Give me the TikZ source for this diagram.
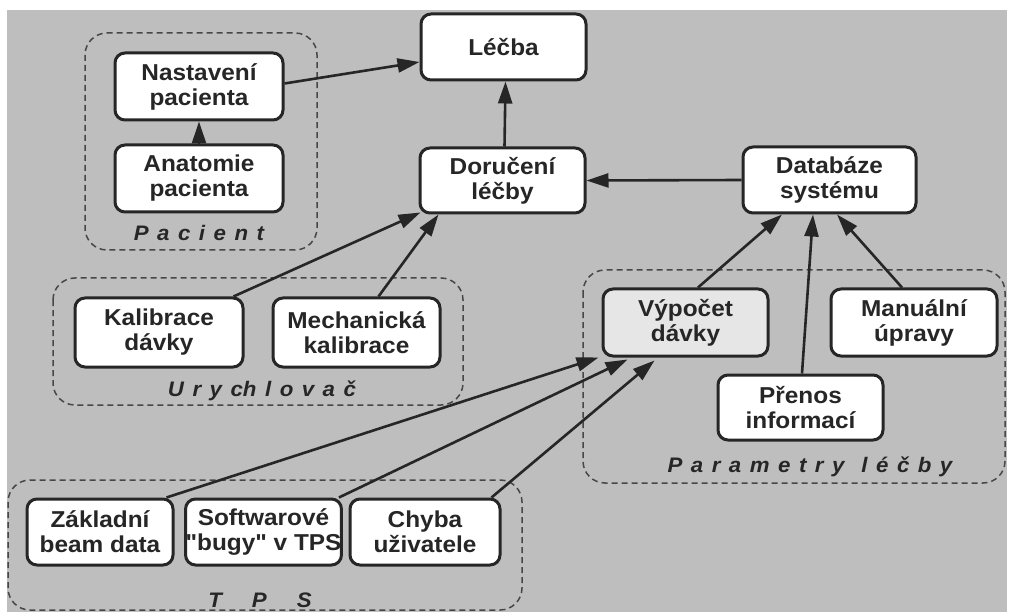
\documentclass[tikz,border=0pt]{standalone}
\usepackage{fontspec}
\setmainfont{Liberation Sans}[FakeStretch=1.06]
\usetikzlibrary{arrows.meta}
\definecolor{bg}{HTML}{BEBEBE}
\definecolor{ink}{HTML}{262626}
\definecolor{vypfill}{HTML}{E6E6E6}
\newcommand\gs{\hspace{8.5pt}}
\begin{document}
\begin{tikzpicture}[x=1pt,y=-1pt,
  box/.style={draw=ink, line width=3pt, rounded corners=10pt, fill=white,
    align=center, text=ink, inner sep=0pt,
    font=\fontsize{23}{25}\selectfont\bfseries},
  arr/.style={draw=ink, line width=2.6pt, -{Triangle[length=22pt,width=14pt]}},
  grp/.style={draw=ink!85, line width=1.5pt, dash pattern=on 6pt off 4pt, rounded corners=22pt},
  grplab/.style={anchor=base, text=ink, inner sep=0pt, font=\fontsize{21}{23}\selectfont\bfseries\itshape}
]
\useasboundingbox (0,0) rectangle (1009,612);
\fill[white] (0,0) rectangle (1009,612);
\fill[bg] (7,10) rectangle (1007,612);

% groups
\draw[grp] (85,33) rectangle (317,250);
\draw[grp] (53,278) rectangle (463,405);
\draw[grp] (583,270) rectangle (1005,483);
\draw[grp] (8,480) rectangle (522,610);

\node[grplab] (lpac) at (199,241) {P\gs a\gs c\gs i\gs e\gs n\gs t};
\node[grplab] (lury) at (262,396) {U\gs r\gs y\gs ch\gs l\gs o\gs v\gs a\gs č};
\node[grplab] (lpar) at (810,472) {P\gs a\gs r\gs a\gs m\gs e\gs t\gs r\gs y\gs\gs l\gs é\gs č\gs b\gs y};
\node[grplab] (ltps) at (260,607) {T\hspace{30pt}P\hspace{30pt}S};

% nodes
\node[box, minimum width=165pt, minimum height=66pt] (lecba) at (503.5,47) {Léčba};
\node[box, minimum width=168pt, minimum height=67pt] (nast) at (199,86.5) {Nastavení\\pacienta};
\node[box, minimum width=168pt, minimum height=67pt] (anat) at (199,178.5) {Anatomie\\pacienta};
\node[box, minimum width=165pt, minimum height=65pt] (dor) at (502.5,180.5) {Doručení\\léčby};
\node[box, minimum width=173pt, minimum height=66pt] (db) at (829.5,180) {Databáze\\systému};
\node[box, fill=vypfill, minimum width=165pt, minimum height=67pt] (vyp) at (685.5,322.5) {Výpočet\\dávky};
\node[box, minimum width=166pt, minimum height=67pt] (man) at (914,322.5) {Manuální\\úpravy};
\node[box, minimum width=165pt, minimum height=65pt] (pren) at (800.5,407.5) {Přenos\\informací};
\node[box, minimum width=168pt, minimum height=69pt] (kal) at (159,332.5) {Kalibrace\\dávky};
\node[box, minimum width=167pt, minimum height=69pt] (mech) at (356.5,332.5) {Mechanická\\kalibrace};
\node[box, minimum width=146pt, minimum height=66pt] (zakl) at (100,532) {Základní\\beam data};
\node[box, minimum width=147pt, minimum height=66pt] (sw) at (263.5,532) {Softwarové\\{\addfontfeatures{Ligatures=TeXOff}"bugy"} v TPS};
\node[box, minimum width=150pt, minimum height=66pt] (chyba) at (425,532) {Chyba\\uživatele};

% connectors
\draw[arr] ([yshift=3pt]nast.east) -- ([yshift=-15pt]lecba.west);
\draw[arr] (anat.north) -- (nast.south);
\draw[arr] ([xshift=2pt]dor.north) -- ([xshift=2pt]lecba.south);
\draw[arr] (db.west) -- (dor.east);
\draw[arr] ([xshift=-11pt]kal.north east) -- ([xshift=2pt,yshift=2pt]dor.south west);
\draw[arr] ([xshift=-63pt]mech.north east) -- ([xshift=20pt]dor.south west);
\draw[arr] ([xshift=12.5pt]vyp.north) -- ([xshift=-47.5pt]db.south);
\draw[arr] ([xshift=1.5pt]pren.north) -- ([xshift=-16.5pt]db.south);
\draw[arr] ([xshift=-12pt]man.north) -- ([xshift=7.5pt]db.south);
\draw[arr] ([xshift=-8pt]zakl.north east) -- ([xshift=-3pt]vyp.south west);
\draw[arr] ([xshift=-4pt]sw.north east) -- ([xshift=26pt,yshift=-2pt]vyp.south west);
\draw[arr] ([xshift=-10pt]chyba.north east) -- ([xshift=53pt,yshift=-3pt]vyp.south west);
\end{tikzpicture}
\end{document}
